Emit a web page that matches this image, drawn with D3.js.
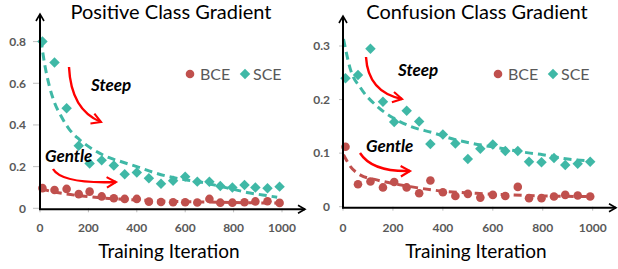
<!DOCTYPE html>
<html>
<head>
<meta charset="utf-8">
<script src="https://cdn.jsdelivr.net/npm/d3@7"></script>
<style>
  html, body { margin: 0; padding: 0; background: #fff; }
  svg { display: block; }
  text { font-family: Lato, "Open Sans", sans-serif; }
</style>
</head>
<body>
<svg id="chart" width="618" height="269"></svg>
<script>
// ---------- data ----------
const iterations = [10, 60, 110, 160, 205, 255, 305, 350, 400, 450, 500, 550, 600, 650, 700, 745, 795, 845, 890, 940, 990];
const xTicks = [0, 200, 400, 600, 800, 1000];

// Positive Class Gradient
const posSCE = [0.80, 0.70, 0.48, 0.30, 0.215, 0.23, 0.205, 0.163, 0.172, 0.144, 0.118, 0.132, 0.152, 0.128, 0.127, 0.107, 0.100, 0.112, 0.100, 0.096, 0.104];
const posBCE = [0.097, 0.088, 0.093, 0.068, 0.080, 0.057, 0.048, 0.045, 0.045, 0.032, 0.030, 0.029, 0.029, 0.028, 0.045, 0.027, 0.027, 0.029, 0.033, 0.034, 0.026];
const posSCETrendX = [4, 18, 38, 59, 87, 121, 162, 218, 286, 340, 400, 470, 525, 605, 690, 745, 800, 855, 920, 980];
const posSCETrendY = [0.81, 0.70, 0.59, 0.51, 0.443, 0.379, 0.331, 0.283, 0.243, 0.222, 0.200, 0.172, 0.154, 0.136, 0.120, 0.105, 0.091, 0.076, 0.064, 0.053];
const posBCETrendX = [5, 50, 100, 200, 300, 400, 500, 600, 700, 800, 900, 990];
const posBCETrendY = [0.094, 0.080, 0.070, 0.056, 0.046, 0.040, 0.035, 0.032, 0.030, 0.028, 0.026, 0.025];
const posYTicks = [0, 0.2, 0.4, 0.6, 0.8];

// Confusion Class Gradient
const confSCE = [0.240, 0.246, 0.295, 0.196, 0.158, 0.179, 0.159, 0.117, 0.135, 0.118, 0.089, 0.108, 0.116, 0.104, 0.104, 0.084, 0.083, 0.091, 0.078, 0.080, 0.084];
const confBCE = [0.112, 0.042, 0.047, 0.036, 0.046, 0.036, 0.025, 0.049, 0.027, 0.020, 0.024, 0.017, 0.022, 0.020, 0.037, 0.016, 0.016, 0.019, 0.022, 0.021, 0.019];
const confSCETrendX = [2, 30, 70, 135, 200, 270, 360, 450, 520, 620, 750, 800, 900, 980];
const confSCETrendY = [0.313, 0.256, 0.222, 0.188, 0.166, 0.150, 0.138, 0.125, 0.118, 0.110, 0.100, 0.097, 0.089, 0.086];
const confBCETrendX = [2, 30, 70, 135, 270, 400, 535, 670, 800, 990];
const confBCETrendY = [0.097, 0.075, 0.059, 0.050, 0.0375, 0.029, 0.025, 0.022, 0.020, 0.019];
const confYTicks = [0, 0.1, 0.2, 0.3];

const titles = ["Positive Class Gradient", "Confusion Class Gradient"];
const xTitle = "Training Iteration";
const seriesNames = ["BCE", "SCE"];
const annotations = ["Steep", "Gentle"];

// ---------- style ----------
const RED = "#c0504d";
const TEAL = "#3fb8a6";
const GRAY = "#595959";

const svg = d3.select("#chart");
const defs = svg.append("defs");
defs.append("marker").attr("id", "blackArrow").attr("viewBox", "0 0 10 10")
  .attr("refX", 8).attr("refY", 5).attr("markerWidth", 5).attr("markerHeight", 5)
  .attr("orient", "auto")
  .append("path").attr("d", "M1,1 L8,5 L1,9").attr("fill", "none").attr("stroke", "#000").attr("stroke-width", 1.6);
defs.append("marker").attr("id", "redArrow").attr("viewBox", "0 0 10 10")
  .attr("refX", 8).attr("refY", 5).attr("markerWidth", 5.5).attr("markerHeight", 5.5)
  .attr("orient", "auto")
  .append("path").attr("d", "M1,1 L8,5 L1,9").attr("fill", "none").attr("stroke", "red").attr("stroke-width", 1.6);

const panels = [
  {
    title: titles[0], titleX: 171,
    x0: 40, x1: 282, y0: 208.3, y1: 41.6, yMax: 0.8, yTicks: posYTicks, yFmt: d => d === 0 ? "0" : d3.format(".1f")(d),
    labelRight: 26, tickX: 33,
    sce: posSCE, bce: posBCE,
    sceT: [posSCETrendX, posSCETrendY], bceT: [posBCETrendX, posBCETrendY],
    xEnd: 305, yTop: 14,
    legend: { cx: 190, cy: 74 },
    steep: { x: 91, y: 91, a: [[69, 67], [71, 110], [101, 122]] },
    gentle: { x: 45, y: 162, a: [[53, 169], [62, 184], [116, 182]] }
  },
  {
    title: titles[1], titleX: 477,
    x0: 343, x1: 592.7, y0: 206.7, y1: 46, yMax: 0.3, yTicks: confYTicks, yFmt: d => d === 0 ? "0" : d3.format(".1f")(d),
    labelRight: 330, tickX: 339,
    sce: confSCE, bce: confBCE,
    sceT: [confSCETrendX, confSCETrendY], bceT: [confBCETrendX, confBCETrendY],
    xEnd: 616, yTop: 16,
    legend: { cx: 498, cy: 74 },
    steep: { x: 398, y: 76, a: [[366, 57], [368, 92], [402, 99]] },
    gentle: { x: 366, y: 152, a: [[360, 153], [372, 172], [410, 171]] }
  }
];

panels.forEach(p => {
  const g = svg.append("g");
  const x = d3.scaleLinear().domain([0, 1000]).range([p.x0, p.x1]);
  const y = d3.scaleLinear().domain([0, p.yMax]).range([p.y0, p.y1]);

  // title
  g.append("text").attr("x", p.titleX).attr("y", 19).attr("text-anchor", "middle")
    .attr("font-size", 20).attr("fill", "#000").text(p.title);

  // y ticks & labels
  p.yTicks.forEach(t => {
    g.append("line").attr("x1", p.tickX).attr("x2", p.x0).attr("y1", y(t)).attr("y2", y(t))
      .attr("stroke", "#bfbfbf").attr("stroke-width", 1);
    g.append("text").attr("x", p.labelRight).attr("y", y(t)).attr("dy", "0.36em")
      .attr("text-anchor", "end").attr("font-size", 12).attr("font-weight", "bold")
      .attr("fill", GRAY).text(p.yFmt(t));
  });
  // x ticks & labels
  xTicks.forEach(t => {
    g.append("line").attr("x1", x(t)).attr("x2", x(t)).attr("y1", p.y0).attr("y2", p.y0 + 4)
      .attr("stroke", "#bfbfbf").attr("stroke-width", 1);
    g.append("text").attr("x", x(t)).attr("y", 228).attr("dy", "0.36em")
      .attr("text-anchor", "middle").attr("font-size", 12).attr("font-weight", "bold")
      .attr("fill", GRAY).text(t);
  });
  // x title
  g.append("text").attr("x", (p.x0 + p.x1) / 2 + 8).attr("y", 258).attr("text-anchor", "middle")
    .attr("font-size", 19).attr("fill", "#000").text(xTitle);

  // trend lines
  const line = d3.line().x(d => x(d[0])).y(d => y(d[1])).curve(d3.curveMonotoneX);
  const tSce = p.sceT[0].map((v, i) => [v, p.sceT[1][i]]);
  const tBce = p.bceT[0].map((v, i) => [v, p.bceT[1][i]]);
  g.append("path").attr("d", line(tSce)).attr("fill", "none").attr("stroke", TEAL)
    .attr("stroke-width", 3).attr("stroke-dasharray", "8,5");
  g.append("path").attr("d", line(tBce)).attr("fill", "none").attr("stroke", RED)
    .attr("stroke-width", 3).attr("stroke-dasharray", "8,5");

  // points
  const diamond = d3.symbol().type(d3.symbolDiamond2).size(70);
  g.selectAll(".sce").data(iterations.map((v, i) => [v, p.sce[i]])).join("path")
    .attr("d", diamond).attr("transform", d => `translate(${x(d[0])},${y(d[1])})`).attr("fill", TEAL);
  g.selectAll(".bce").data(iterations.map((v, i) => [v, p.bce[i]])).join("circle")
    .attr("cx", d => x(d[0])).attr("cy", d => y(d[1])).attr("r", 4.3).attr("fill", RED);

  // axes
  g.append("line").attr("x1", p.x0).attr("x2", p.x0).attr("y1", p.y0 + 1.5).attr("y2", p.yTop)
    .attr("stroke", "#000").attr("stroke-width", 2).attr("marker-end", "url(#blackArrow)");
  g.append("line").attr("x1", p.x0 - 1).attr("x2", p.xEnd).attr("y1", p.y0 + 1).attr("y2", p.y0 + 1)
    .attr("stroke", "#000").attr("stroke-width", 2).attr("marker-end", "url(#blackArrow)");

  // legend
  g.append("circle").attr("cx", p.legend.cx).attr("cy", p.legend.cy).attr("r", 4.3).attr("fill", RED);
  g.append("text").attr("x", p.legend.cx + 10).attr("y", p.legend.cy).attr("dy", "0.36em")
    .attr("font-size", 16).attr("fill", GRAY).text(seriesNames[0]);
  g.append("path").attr("d", diamond).attr("transform", `translate(${p.legend.cx + 55},${p.legend.cy})`).attr("fill", TEAL);
  g.append("text").attr("x", p.legend.cx + 63).attr("y", p.legend.cy).attr("dy", "0.36em")
    .attr("font-size", 16).attr("fill", GRAY).text(seriesNames[1]);

  // annotations
  [[p.steep, annotations[0]], [p.gentle, annotations[1]]].forEach(([a, label]) => {
    g.append("text").attr("x", a.x).attr("y", a.y).attr("font-size", 17)
      .attr("font-weight", "bold").attr("font-style", "italic").attr("fill", "#000").text(label);
    const [s, c, e] = a.a;
    g.append("path").attr("d", `M${s[0]},${s[1]} Q${c[0]},${c[1]} ${e[0]},${e[1]}`)
      .attr("fill", "none").attr("stroke", "red").attr("stroke-width", 2.4)
      .attr("marker-end", "url(#redArrow)");
  });
});
</script>
</body>
</html>
